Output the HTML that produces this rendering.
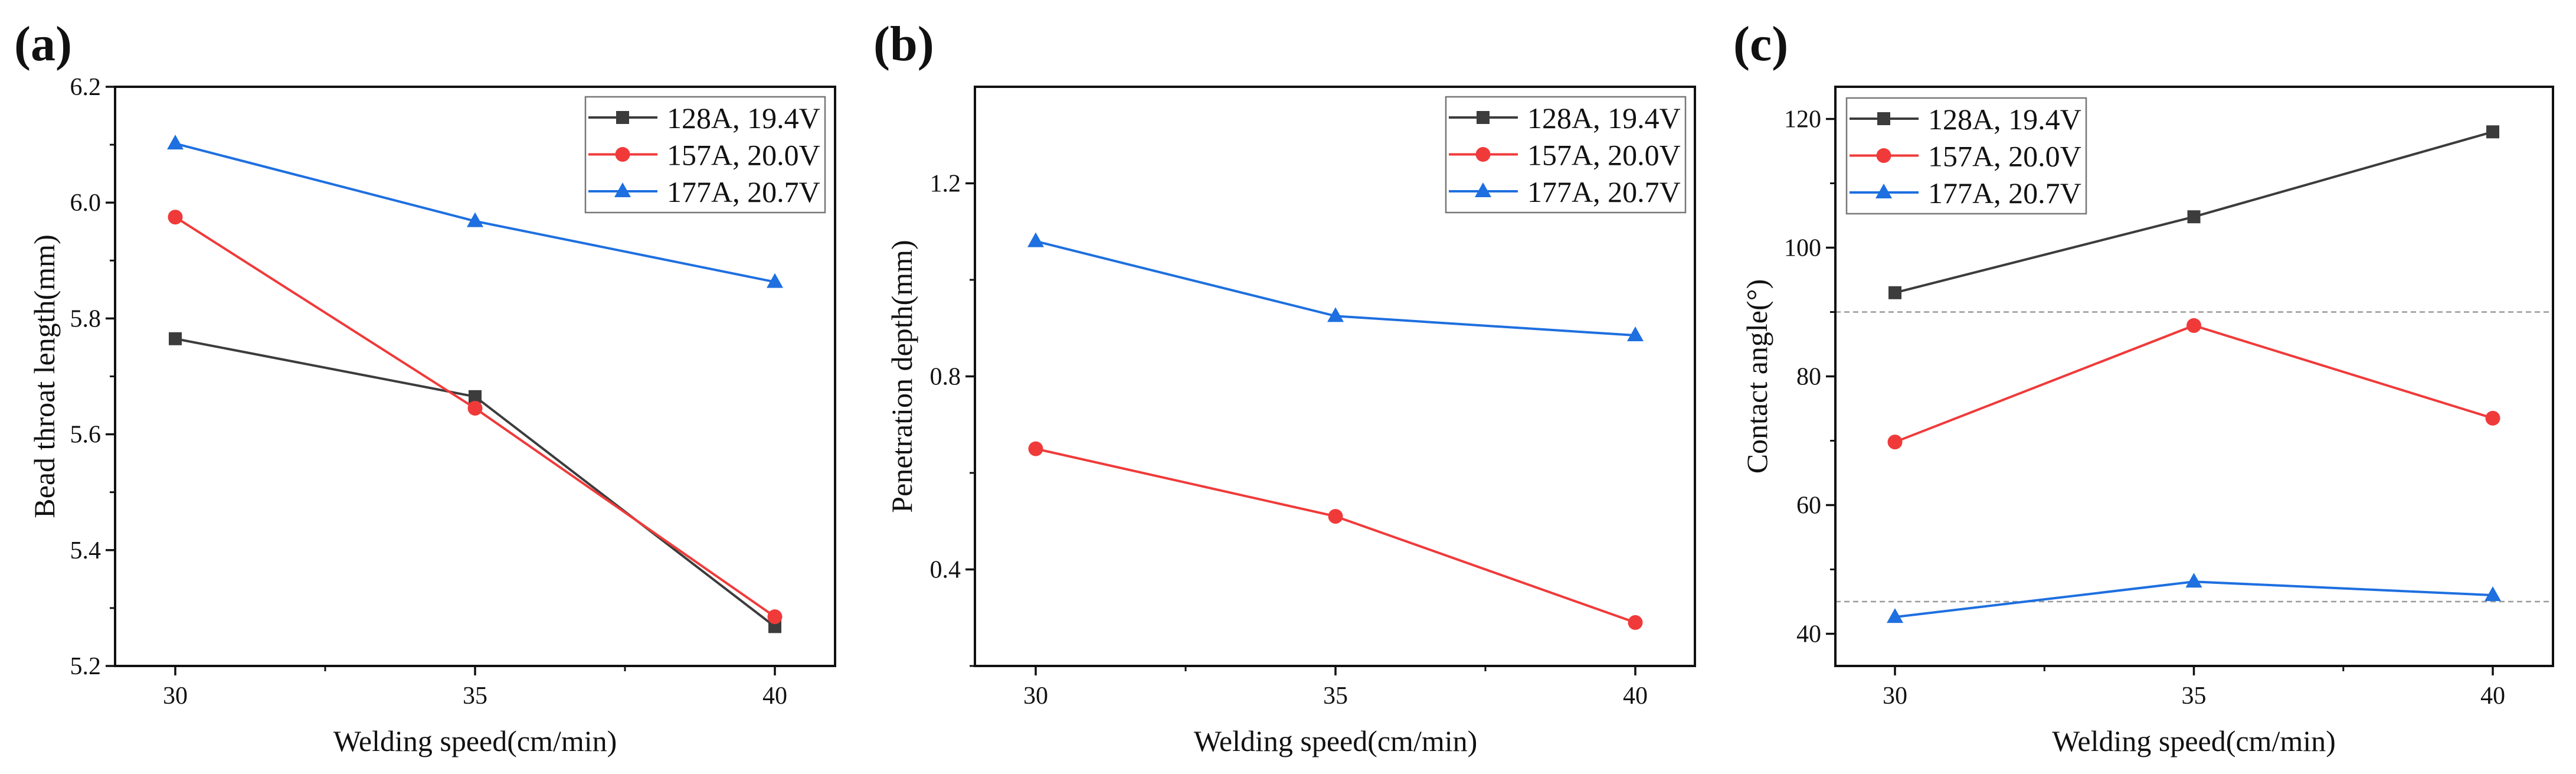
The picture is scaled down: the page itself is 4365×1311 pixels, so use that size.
<!DOCTYPE html>
<html><head><meta charset="utf-8"><style>
html,body{margin:0;padding:0;background:#fff;}
svg text{font-family:"Liberation Serif",serif;fill:#111;}
</style></head><body>
<svg id="fig" width="4365" height="1306" viewBox="0 0 4365 1306" xmlns="http://www.w3.org/2000/svg"></svg>
<script>
const speeds = [30, 35, 40];
const seriesNames = ["128A, 19.4V", "157A, 20.0V", "177A, 20.7V"];
const throat128 = [5.765, 5.665, 5.268];
const throat157 = [5.975, 5.645, 5.285];
const throat177 = [6.102, 5.968, 5.863];
const depth157 = [0.65, 0.51, 0.29];
const depth177 = [1.08, 0.925, 0.885];
const angle128 = [93.0, 104.8, 118.0];
const angle157 = [69.8, 87.9, 73.5];
const angle177 = [42.6, 48.1, 46.0];
const ticksA = [5.2, 5.4, 5.6, 5.8, 6.0, 6.2];
const ticksALabels = ["5.2", "5.4", "5.6", "5.8", "6.0", "6.2"];
const ticksB = [0.4, 0.8, 1.2];
const ticksBLabels = ["0.4", "0.8", "1.2"];
const ticksC = [40, 60, 80, 100, 120];
const ticksCLabels = ["40", "60", "80", "100", "120"];
const refLinesC = [90, 45];

const NS = "http://www.w3.org/2000/svg";
const svg = document.getElementById('fig');
const colors = ["#3c3c3c", "#f03a3a", "#1e6fe0"];
const markers = ["square", "circle", "triangle"];

function mk(tag, attrs, parent) {
  const e = document.createElementNS(NS, tag);
  for (const k in attrs) e.setAttribute(k, attrs[k]);
  (parent || svg).appendChild(e);
  return e;
}
function marker(g, type, x, y, color) {
  let m;
  if (type === "square") m = mk('rect', {x: x - 11, y: y - 11, width: 22, height: 22, fill: color}, g);
  else if (type === "circle") m = mk('circle', {cx: x, cy: y, r: 12.5, fill: color}, g);
  else m = mk('polygon', {points: `${x},${y - 15} ${x + 14},${y + 10} ${x - 14},${y + 10}`, fill: color}, g);
  
  
  return m;
}

function panel(cfg) {
  const g = mk('g', {});
  
  
  const {L, R, T, B, x0, x1, y0, y1} = cfg;
  const xs = v => L + (cfg.x30 - L) + (v - 30) / 10 * (cfg.x40 - cfg.x30);
  const ys = v => B - (v - y0) / (y1 - y0) * (B - T);
  // label
  const lab = mk('text', {x: cfg.labX, y: 102, 'font-size': 84, 'font-weight': 'bold'}, g);
  lab.textContent = '(' + cfg.id + ')';
  
  
  // ref lines
  (cfg.refs || []).forEach(r => {
    const l = mk('line', {x1: L, x2: R, y1: ys(r), y2: ys(r), stroke: '#9a9a9a', 'stroke-width': 2.5, 'stroke-dasharray': '9 6'}, g);
    
    
  });
  // frame
  const fr = mk('rect', {x: L, y: T, width: R - L, height: B - T, fill: 'none', stroke: '#111', 'stroke-width': 4}, g);
  
  
  // x ticks
  speeds.forEach(s => {
    const x = xs(s);
    mk('line', {x1: x, x2: x, y1: B, y2: B + 16, stroke: '#111', 'stroke-width': 3.5}, g);
    const t = mk('text', {x: x, y: B + 64, 'font-size': 42, 'text-anchor': 'middle'}, g);
    t.textContent = String(s);
    
    
  });
  [32.5, 37.5].forEach(s => mk('line', {x1: xs(s), x2: xs(s), y1: B, y2: B + 9, stroke: '#111', 'stroke-width': 3}, g));
  // y ticks
  cfg.ticks.forEach((v, i) => {
    const y = ys(v);
    mk('line', {x1: L - 16, x2: L, y1: y, y2: y, stroke: '#111', 'stroke-width': 3.5}, g);
    const t = mk('text', {x: L - 24, y: y + 14, 'font-size': 42, 'text-anchor': 'end'}, g);
    t.textContent = cfg.tickLabels[i];
    
    
  });
  cfg.minor.forEach(v => mk('line', {x1: L - 9, x2: L, y1: ys(v), y2: ys(v), stroke: '#111', 'stroke-width': 3}, g));
  // titles
  const xt = mk('text', {x: xs(35), y: 1272, 'font-size': 50, 'text-anchor': 'middle'}, g);
  xt.textContent = 'Welding speed(cm/min)';
  
  
  const yt = mk('text', {x: 0, y: 0, 'font-size': 50, 'text-anchor': 'middle', transform: `translate(${cfg.ytX},${(T + B) / 2}) rotate(-90)`}, g);
  yt.textContent = cfg.ytitle;
  
  
  // series
  cfg.series.forEach((vals, si) => {
    if (!vals) return;
    const sg = mk('g', {}, g);
    
    
    const pts = vals.map((v, i) => xs(speeds[i]) + ',' + ys(v)).join(' ');
    const pl = mk('polyline', {points: pts, fill: 'none', stroke: colors[si], 'stroke-width': 4}, sg);
    
    
    vals.forEach((v, i) => marker(sg, markers[si], xs(speeds[i]), ys(v), colors[si]));
  });
  // legend
  const lg = mk('g', {}, g);
  
  
  const lx = cfg.legX, ly = cfg.legY;
  mk('rect', {x: lx, y: ly, width: 406, height: 196, fill: '#fff', stroke: '#777', 'stroke-width': 2.5}, lg);
  seriesNames.forEach((n, i) => {
    const cy = ly + 35 + i * 62.5;
    const eg = mk('g', {}, lg);
    
    
    mk('line', {x1: lx + 5, x2: lx + 122, y1: cy, y2: cy, stroke: colors[i], 'stroke-width': 4}, eg);
    marker(eg, markers[i], lx + 63, cy, colors[i]);
    const t = mk('text', {x: lx + 138, y: cy + 18, 'font-size': 50}, eg);
    t.textContent = n;
  });
}

panel({id: 'a', L: 195, R: 1415, T: 147, B: 1128, x30: 297, x40: 1313, y0: 5.2, y1: 6.2,
  ticks: ticksA, tickLabels: ticksALabels, minor: [5.3, 5.5, 5.7, 5.9, 6.1],
  series: [throat128, throat157, throat177], ytitle: 'Bead throat length(mm)', ytX: 92,
  labX: 24, legX: 992, legY: 164});
panel({id: 'b', L: 1652, R: 2872, T: 147, B: 1128, x30: 1755, x40: 2771, y0: 0.2, y1: 1.4,
  ticks: ticksB, tickLabels: ticksBLabels, minor: [0.2, 0.6, 1.0],
  series: [null, depth157, depth177], ytitle: 'Penetration depth(mm)', ytX: 1545,
  labX: 1480, legX: 2450, legY: 164});
panel({id: 'c', L: 3110, R: 4326, T: 147, B: 1128, x30: 3211, x40: 4224, y0: 35, y1: 125,
  ticks: ticksC, tickLabels: ticksCLabels, minor: [50, 70, 90, 110],
  series: [angle128, angle157, angle177], ytitle: 'Contact angle(°)', ytX: 2994,
  labX: 2937, legX: 3129, legY: 166, refs: refLinesC});
</script>
</body></html>
